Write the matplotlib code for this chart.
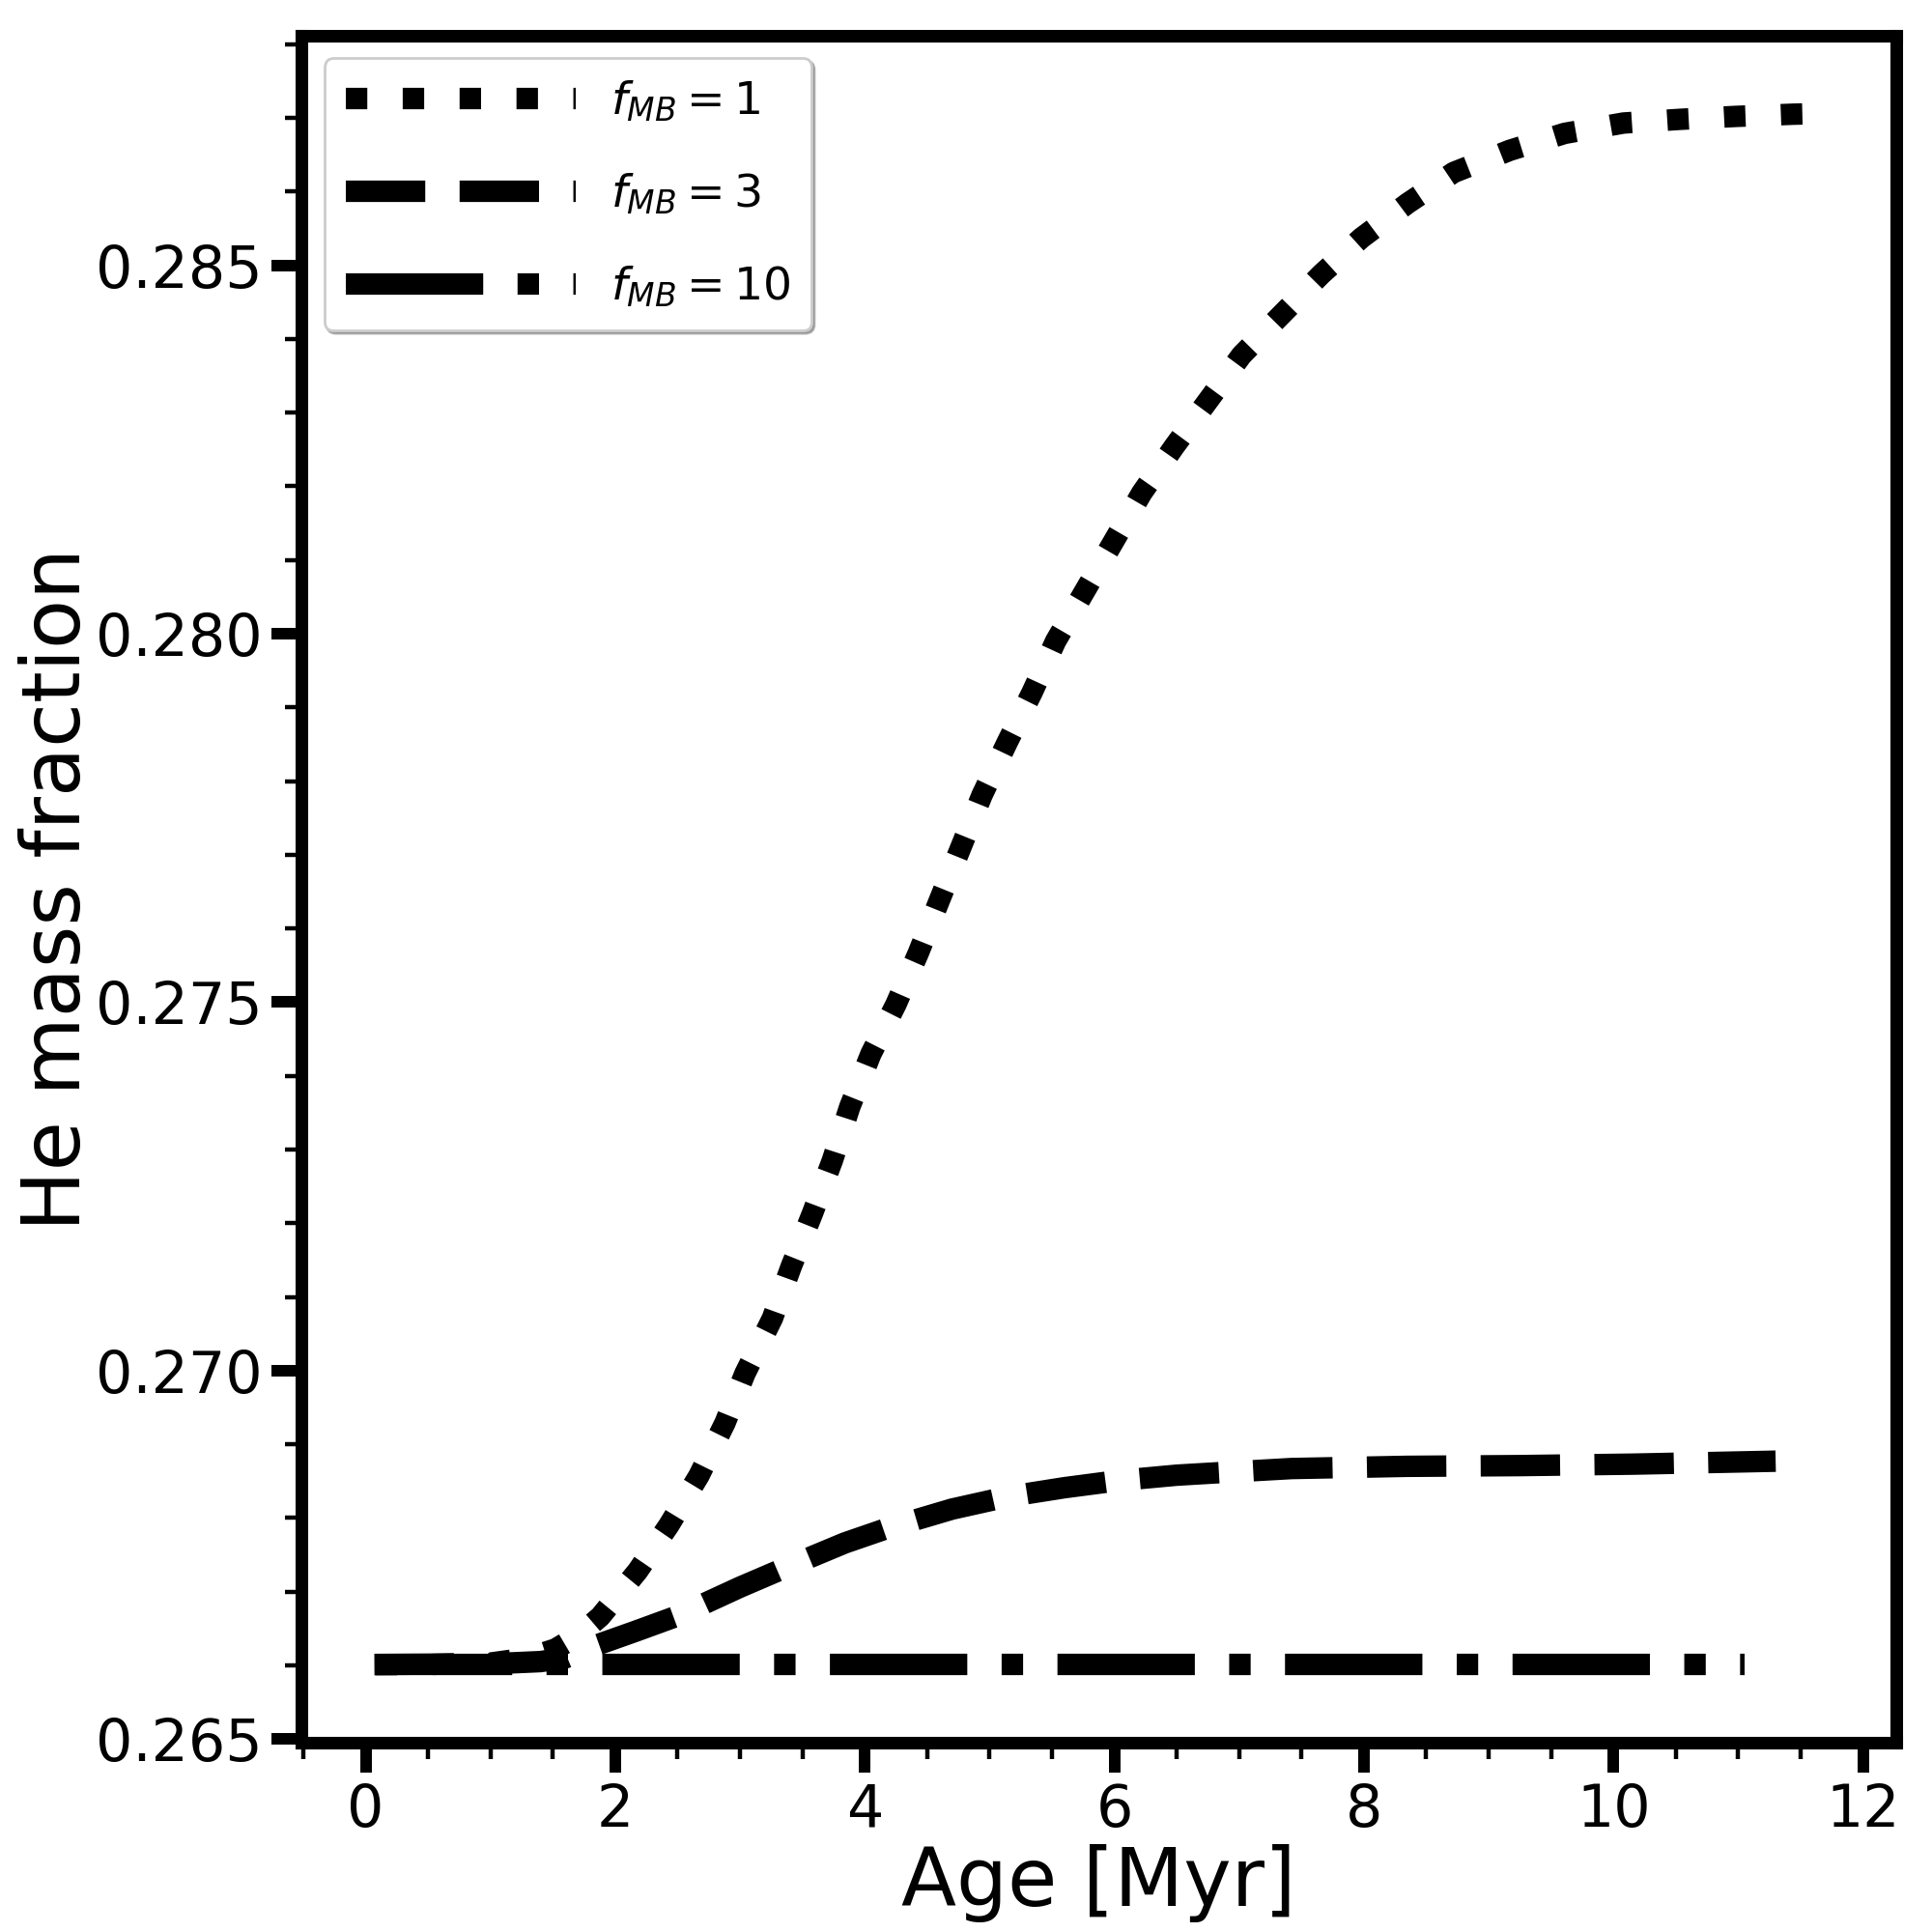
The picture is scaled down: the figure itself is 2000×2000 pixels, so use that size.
import numpy as np
import matplotlib
matplotlib.use('Agg')
from matplotlib import pyplot as plt
from matplotlib.ticker import MultipleLocator

# f_MB = 1 (dotted)
age_f1 = [0.08, 0.5, 1.0, 1.3, 1.52, 1.7, 1.88, 2.18, 2.43, 2.67, 2.88, 3.04, 3.26, 3.41,
          3.58, 3.74, 3.88, 4.05, 4.25, 4.43, 4.6, 4.77, 4.94, 5.14, 5.34, 5.53, 5.76,
          5.99, 6.22, 6.48, 6.75, 7.02, 7.34, 7.66, 7.98, 8.35, 8.72, 9.17, 9.61, 10.08,
          10.53, 10.98, 11.44, 11.68]
he_f1 = [0.26601, 0.26601, 0.26603, 0.26610, 0.26622, 0.26640, 0.26666, 0.26728, 0.26790,
         0.26857, 0.26929, 0.26996, 0.27071, 0.27141, 0.27213, 0.27285, 0.27358, 0.27430,
         0.27497, 0.27567, 0.27639, 0.27710, 0.27781, 0.27852, 0.27920, 0.27990, 0.28057,
         0.28124, 0.28191, 0.28254, 0.28316, 0.28378, 0.28433, 0.28488, 0.28537, 0.28584,
         0.28626, 0.28656, 0.28679, 0.28693, 0.28698, 0.28702, 0.28705, 0.28706]

# f_MB = 3 (dashed)
age_f3 = [0.07, 1.0, 1.4, 1.6, 1.86, 2.16, 2.5, 3.0, 3.4, 3.84, 4.2, 4.7, 5.15, 5.6, 6.05,
          6.5, 7.0, 7.42, 8.34, 9.25, 10.16, 11.02, 11.3]
he_f3 = [0.26601, 0.26602, 0.26605, 0.26610, 0.26628, 0.26646, 0.26667, 0.26706, 0.26735,
         0.26766, 0.26787, 0.26812, 0.26829, 0.26841, 0.26851, 0.26858, 0.26863, 0.26867,
         0.26870, 0.26871, 0.26873, 0.26876, 0.26877]

# f_MB = 10 (dash-dot)
age_f10 = [0.07, 2.0, 4.0, 6.0, 8.0, 10.0, 11.05]
he_f10 = [0.26601, 0.26601, 0.26601, 0.26601, 0.26601, 0.26601, 0.26601]

labels = [r'$f_{MB}=1$', r'$f_{MB}=3$', r'$f_{MB}=10$']

fig = plt.figure(figsize=(10, 10), dpi=200)
ax = fig.add_axes([0.156, 0.098, 0.8254, 0.8837])

lw = 8
ax.plot(age_f1, he_f1, color='k', ls=':', lw=lw, label=labels[0])
ax.plot(age_f3, he_f3, color='k', ls='--', lw=lw, label=labels[1])
ax.plot(age_f10, he_f10, color='k', ls='-.', lw=lw, label=labels[2])

ax.set_xlim(-0.515, 12.265)
ax.set_ylim(0.26495, 0.28812)

ax.xaxis.set_major_locator(MultipleLocator(2))
ax.xaxis.set_minor_locator(MultipleLocator(0.5))
ax.yaxis.set_major_locator(MultipleLocator(0.005))
ax.yaxis.set_minor_locator(MultipleLocator(0.001))

for sp in ax.spines.values():
    sp.set_linewidth(4.7)

ax.tick_params(which='major', direction='out', length=11.2, width=4.3, labelsize=21.7)
ax.tick_params(which='minor', direction='out', length=6.1, width=1.6)

ax.set_xlabel('Age [Myr]', fontsize=30, labelpad=1.7)
ax.set_ylabel('He mass fraction', fontsize=30, labelpad=-0.5)

ax.legend(loc='upper left', fontsize=17, handlelength=5.045, labelspacing=1.04,
          borderpad=0.47, handletextpad=0.76,
          shadow={'ox': 1, 'oy': -1, 'color': '0.5', 'alpha': 0.6}, framealpha=1)

fig.savefig('out.png', dpi=200)
